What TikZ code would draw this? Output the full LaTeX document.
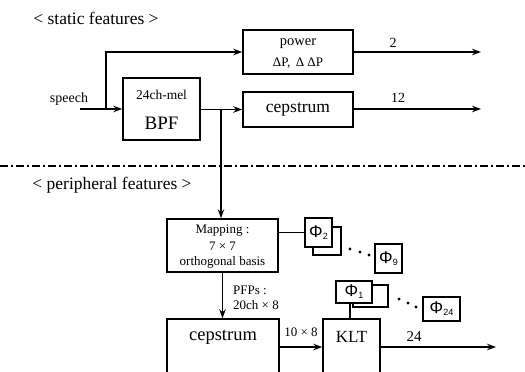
\documentclass[tikz,border=0pt]{standalone}
\usepackage{fontspec}
\setmainfont{Liberation Serif}
\newfontfamily\phifont{Liberation Sans}
\usetikzlibrary{arrows.meta}
\begin{document}
\begin{tikzpicture}[x=1pt,y=-1pt,
  box/.style={draw,line width=1.5pt,fill=white,inner sep=0pt,anchor=center},
  conn/.style={line width=1.2pt},
  arr/.style={conn,-{Stealth[length=9pt,width=6.5pt]}},
  txt/.style={inner sep=0pt,anchor=center},
  phi/.style={box,line width=1.3pt,font=\phifont\fontsize{17}{17}\selectfont},
  dot/.style={fill=black}
]
\useasboundingbox (0,0) rectangle (525,372);
\clip (0,0) rectangle (525,372);

% headings
\node[txt,font=\fontsize{17.5}{18}\selectfont] (h1) at (96,18) {< static features >};
\node[txt,font=\fontsize{17.5}{18}\selectfont] (h2) at (112,185) {< peripheral features >};

% separator
\coordinate (sepL) at (0,166);
\coordinate (sepR) at (525,166);
\draw[line width=1.2pt,dash pattern=on 8pt off 3pt on 2pt off 3pt] (sepL) -- (sepR);

% static boxes
\node[box,minimum width=110,minimum height=44] (power) at (298,52) {};
\node[txt,font=\fontsize{14.5}{15}\selectfont] (powt) at (298,44) {power};
\node[txt,font=\fontsize{13}{14}\selectfont] (powd) at (298,63) {ΔP, \,Δ ΔP};
\node[box,minimum width=77,minimum height=62] (bpf) at (161.5,109) {};
\node[txt,font=\fontsize{13.5}{14}\selectfont] (bpft1) at (161.5,95) {24ch-mel};
\node[txt,font=\fontsize{19}{20}\selectfont] (bpft2) at (161.5,123) {BPF};
\node[box,minimum width=110,minimum height=35] (cep1) at (298,109.5) {};
\node[txt,font=\fontsize{17.5}{18}\selectfont] (cep1t) at (298,109) {cepstrum};

% speech input
\node[txt,font=\fontsize{14}{15}\selectfont] (speech) at (69,99) {speech};
\coordinate (sp) at (80,109);
\coordinate (br1) at (106,109);
\draw[arr] (sp) -- (bpf.west);
\draw[arr] (br1) |- (power.west);
\draw[arr] (bpf.east |- cep1.west) -- (cep1.west);

% outputs
\coordinate (o1) at (481,52);
\coordinate (o2) at (481,109);
\draw[arr] (power.east) -- (o1);
\draw[arr] (cep1.east |- o2) -- (o2);
\node[txt,font=\fontsize{14}{15}\selectfont] (l2) at (393,43) {2};
\node[txt,font=\fontsize{14}{15}\selectfont] (l12) at (398,98) {12};

% down branch
\coordinate (br2) at (221,109);
\node[box,minimum width=111,minimum height=53] (map) at (222.5,245.5) {};
\draw[arr] (br2) -- (br2 |- map.north);
\node[txt,font=\fontsize{13}{14}\selectfont] (mt1) at (222.5,231) {Mapping :};
\node[txt,font=\fontsize{13}{14}\selectfont] (mt2) at (222.5,246) {7 × 7};
\node[txt,font=\fontsize{13}{14}\selectfont] (mt3) at (222.5,262) {orthogonal basis};

% phi boxes (2..9)
\node[phi,minimum width=28,minimum height=28] (phi2s) at (327,241) {};
\node[phi,minimum width=27,minimum height=29] (phi2) at (318.5,232.5) {Φ\raisebox{-2pt}{\fontsize{9}{9}\selectfont 2}};
\node[phi,minimum width=27,minimum height=29] (phi9) at (388.5,258.5) {Φ\raisebox{-2pt}{\fontsize{9}{9}\selectfont 9}};
\draw[conn] (map.east |- phi2.west) -- (phi2.west);
\fill[dot] (350,249) circle (1.6) (360,252) circle (1.6) (369,255) circle (1.6);

% bottom row
\node[box,minimum width=112,minimum height=56] (cep2) at (223,347) {};
\node[txt,font=\fontsize{18.5}{19}\selectfont] (cep2t) at (223,337) {cepstrum};
\draw[arr] (map.south) -- (map.south |- cep2.north);
\node[txt,font=\fontsize{13}{14}\selectfont,anchor=west] (pfp1) at (233,290) {PFPs :};
\node[txt,font=\fontsize{13}{14}\selectfont,anchor=west] (pfp2) at (233,305) {20ch × 8};

\node[box,minimum width=57,minimum height=56] (klt) at (351.5,347) {};
\node[txt,font=\fontsize{17}{18}\selectfont] (kltt) at (351.5,337) {KLT};
\draw[arr] (cep2.east) -- (klt.west);
\node[txt,font=\fontsize{13}{14}\selectfont] (l108) at (301,332) {10 × 8};

\coordinate (o3) at (496,347);
\draw[arr] (klt.east) -- (o3);
\node[txt,font=\fontsize{15}{16}\selectfont] (l24) at (414,337) {24};

% phi boxes (1..24)
\node[phi,minimum width=35,minimum height=22] (phi1s) at (370.5,296) {};
\node[phi,minimum width=36,minimum height=22] (phi1) at (354,292) {Φ\raisebox{-2pt}{\fontsize{9}{9}\selectfont 1}};
\node[phi,minimum width=37,minimum height=24] (phi24) at (441.5,309) {Φ\raisebox{-2pt}{\fontsize{9}{9}\selectfont 24}};
\coordinate (k1) at (350,303);
\draw[conn] (phi1.south -| k1) -- (klt.north -| k1);
\fill[dot] (399,299) circle (1.6) (408,303) circle (1.6) (416,307) circle (1.6);
\end{tikzpicture}
\end{document}
